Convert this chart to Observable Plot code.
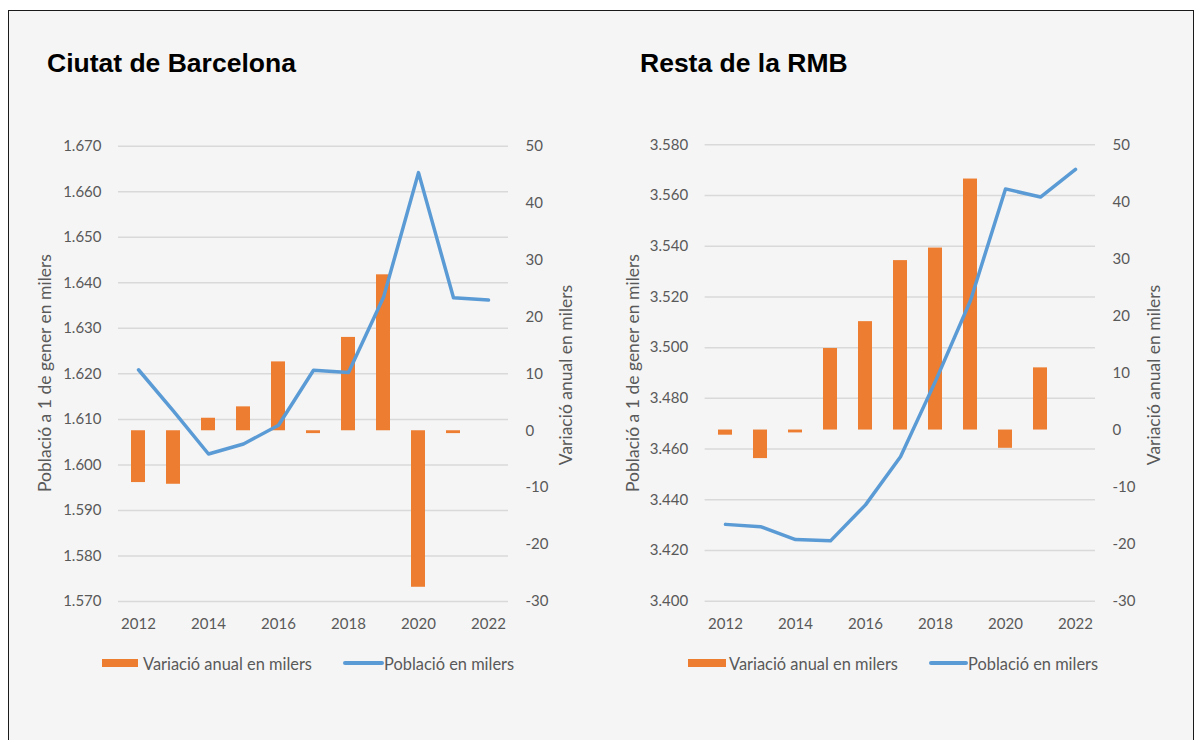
<!DOCTYPE html>
<html>
<head>
<meta charset="utf-8">
<script src="https://cdn.jsdelivr.net/npm/d3@7"></script>
<script src="https://cdn.jsdelivr.net/npm/@observablehq/plot@0.6"></script>
<style>
html, body { margin: 0; padding: 0; background: #ffffff; }
body { width: 1199px; height: 740px; position: relative; overflow: hidden; font-family: Lato, sans-serif; }
#frame { position: absolute; left: 7.5px; top: 9.5px; width: 1186.5px; height: 760px; border: 1.5px solid #1a1a1a; background: #f5f5f5; box-sizing: border-box; }
.layer { position: absolute; }
.title { position: absolute; font-family: "Liberation Sans", Arial, sans-serif; font-weight: bold; font-size: 26.5px; line-height: 1; color: #000; white-space: nowrap; }
.ytitle { position: absolute; font-family: Lato, sans-serif; font-size: 17.5px; color: #595959; white-space: nowrap; line-height: 1; transform: translate(-50%, -50%) rotate(-90deg); }
.ltext { position: absolute; font-family: Lato, sans-serif; font-size: 16.4px; color: #595959; white-space: nowrap; line-height: 1; }
.sw { position: absolute; }
</style>
</head>
<body>
<div id="frame"></div>
<script>
// ---- Data (values in thousands) ----
const years = [2012, 2013, 2014, 2015, 2016, 2017, 2018, 2019, 2020, 2021, 2022];
const bcnPopulation = [1620.9, 1611.8, 1602.4, 1604.6, 1608.7, 1620.8, 1620.3, 1636.8, 1664.2, 1636.7, 1636.2];
const bcnVariation  = [-9.1, -9.4, 2.2, 4.2, 12.1, -0.5, 16.4, 27.4, -27.5, -0.5, null];
const rmbPopulation = [3430.3, 3429.4, 3424.3, 3423.8, 3438.0, 3457.0, 3486.8, 3518.6, 3562.6, 3559.4, 3570.3];
const rmbVariation  = [-0.9, -5.0, -0.5, 14.3, 19.0, 29.7, 31.9, 44.0, -3.2, 10.9, null];

// ---- Tick labels ----
const bcnPopTicks = [1570, 1580, 1590, 1600, 1610, 1620, 1630, 1640, 1650, 1660, 1670];
const rmbPopTicks = [3400, 3420, 3440, 3460, 3480, 3500, 3520, 3540, 3560, 3580];
const variationTicks = [-30, -20, -10, 0, 10, 20, 30, 40, 50];
const yearTicks = [2012, 2014, 2016, 2018, 2020, 2022];

// ---- Texts ----
const panelTitles = ["Ciutat de Barcelona", "Resta de la RMB"];
const leftAxisTitle = "Població a 1 de gener en milers";
const rightAxisTitle = "Variació anual en milers";
const legendLabels = ["Variació anual en milers", "Població en milers"];

const ORANGE = "#ED7D31", BLUE = "#5B9BD5", GRID = "#d9d9d9", TEXT = "#595959";
const thousands = d => d3.format(",")(d).replace(/,/g, ".");
const plain = d => String(d);

const frame = document.body;

function place(el, x, y) {
  el.style.left = x + "px";
  el.style.top = y + "px";
  frame.appendChild(el);
  return el;
}
function div(cls, text) {
  const d = document.createElement("div");
  d.className = cls;
  if (text != null) d.textContent = text;
  return d;
}

function panel(cfg) {
  const W = 600, H = 540;
  const base = {
    width: W, height: H,
    marginLeft: cfg.ml, marginRight: W - cfg.ml - cfg.pw,
    marginTop: cfg.top0 - cfg.svgTop, marginBottom: (cfg.svgTop + H) - cfg.bottom0,
    style: { background: "transparent", fontFamily: "Lato, sans-serif", fontSize: "15px", color: TEXT, overflow: "visible" }
  };
  const rows = years.map((year, i) => ({ year, p: cfg.pop[i], v: cfg.variation[i] }));

  // Layer A: gridlines + left axis (population scale)
  const a = Plot.plot({
    ...base,
    x: { type: "point", domain: years, padding: 0.5, axis: null },
    y: { domain: cfg.popDomain },
    marks: [
      Plot.gridY({ ticks: cfg.popTicks, stroke: GRID, strokeOpacity: 1, strokeWidth: 1.5 }),
      Plot.axisY({ ticks: cfg.popTicks, anchor: "left", tickSize: 0, tickPadding: 17, tickFormat: thousands, label: null })
    ]
  });
  // Layer B: bars + right axis + x axis (variation scale)
  const b = Plot.plot({
    ...base,
    x: { type: "band", domain: years, paddingInner: 0.6, paddingOuter: 0.3 },
    y: { domain: [-30, 50] },
    marks: [
      Plot.barY(rows.filter(d => d.v != null), { x: "year", y: "v", fill: ORANGE }),
      Plot.axisY({ ticks: variationTicks, anchor: "right", tickSize: 0, tickPadding: 17, tickFormat: plain, label: null }),
      Plot.axisX({ ticks: yearTicks, tickSize: 0, tickPadding: 17, tickFormat: plain, label: null })
    ]
  });
  // Layer C: population line
  const c = Plot.plot({
    ...base,
    x: { type: "point", domain: years, padding: 0.5, axis: null },
    y: { domain: cfg.popDomain, axis: null },
    marks: [
      Plot.line(rows, { x: "year", y: "p", stroke: BLUE, strokeWidth: 3.5, strokeLinecap: "round", strokeLinejoin: "round" })
    ]
  });
  for (const svg of [a, b, c]) {
    svg.classList.add("layer");
    place(svg, cfg.svgLeft, cfg.svgTop);
  }

  // Title
  place(div("title", cfg.title), cfg.titleX, 50.3);
  // Axis titles
  place(div("ytitle", leftAxisTitle), cfg.leftTitleX, (cfg.top0 + cfg.bottom0) / 2);
  place(div("ytitle", rightAxisTitle), cfg.rightTitleX, (cfg.top0 + cfg.bottom0) / 2 + 2);
  // Legend
  const sw1 = div("sw"); sw1.style.width = cfg.lg.barW + "px"; sw1.style.height = "8.6px"; sw1.style.background = ORANGE;
  place(sw1, cfg.lg.barX, 658.7);
  place(div("ltext", legendLabels[0]), cfg.lg.t1X, 655.6);
  const sw2 = div("sw"); sw2.style.width = cfg.lg.lineW + "px"; sw2.style.height = "3.5px"; sw2.style.background = BLUE; sw2.style.borderRadius = "2px";
  place(sw2, cfg.lg.lineX, 661.3);
  place(div("ltext", legendLabels[1]), cfg.lg.t2X, 655.6);
}

panel({
  title: panelTitles[0], titleX: 47,
  pop: bcnPopulation, variation: bcnVariation,
  popDomain: [1570, 1670], popTicks: bcnPopTicks,
  svgLeft: 20, svgTop: 110, ml: 98, pw: 390, top0: 145.7, bottom0: 601,
  leftTitleX: 45, rightTitleX: 566,
  lg: { barX: 101.5, barW: 36.5, t1X: 143, lineX: 342.5, lineW: 41, t2X: 384 }
});
panel({
  title: panelTitles[1], titleX: 640,
  pop: rmbPopulation, variation: rmbVariation,
  popDomain: [3400, 3580], popTicks: rmbPopTicks,
  svgLeft: 607, svgTop: 110, ml: 97.6, pw: 390.4, top0: 144.3, bottom0: 600.7,
  leftTitleX: 632.5, rightTitleX: 1154,
  lg: { barX: 688, barW: 37.5, t1X: 729, lineX: 929, lineW: 39, t2X: 968 }
});
</script>
</body>
</html>
